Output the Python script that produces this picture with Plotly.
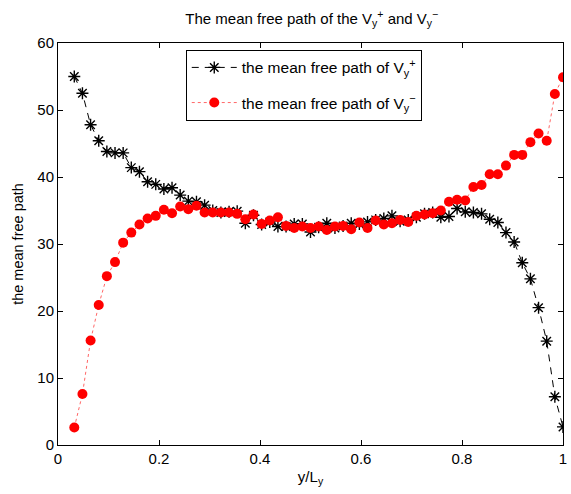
import plotly.graph_objects as go

# x positions: i/62 for i = 2..62
x_index = list(range(2, 63))
x_vals = [i / 62 for i in x_index]

v_plus = [55.0, 52.5, 47.8, 45.4, 43.8, 43.6, 43.6, 41.4, 40.8, 39.3,
          38.9, 38.2, 38.4, 37.3, 36.4, 36.3, 35.8, 35.0, 34.7, 34.8,
          34.9, 33.1, 34.3, 32.9, 33.3, 32.6, 32.6, 33.0, 33.0, 31.8,
          32.5, 33.1, 32.4, 32.7, 33.1, 33.0, 33.3, 33.6, 33.8, 34.2,
          33.4, 33.6, 34.0, 34.5, 34.7, 34.0, 34.1, 35.3, 34.8, 34.7,
          34.5, 33.7, 33.2, 31.7, 30.3, 27.2, 24.8, 20.5, 15.5, 7.2,
          2.7]

v_minus = [2.6, 7.6, 15.6, 20.9, 25.2, 27.3, 30.2, 31.7, 32.9, 33.8,
           34.2, 35.1, 34.6, 35.6, 35.2, 35.7, 34.7, 34.7, 34.7, 34.7,
           34.5, 33.7, 34.4, 33.0, 33.5, 34.0, 32.7, 32.4, 32.6, 32.4,
           32.6, 32.1, 32.6, 32.7, 32.2, 33.2, 32.4, 33.5, 32.9, 33.1,
           33.6, 33.3, 34.2, 34.4, 34.6, 35.0, 36.3, 36.6, 36.5, 38.5,
           38.8, 40.4, 40.4, 41.7, 43.3, 43.3, 45.2, 46.5, 45.4, 52.4,
           54.9]

x_ticks = [0, 0.2, 0.4, 0.6, 0.8, 1]
x_tick_text = ["0", "0.2", "0.4", "0.6", "0.8", "1"]
y_ticks = [0, 10, 20, 30, 40, 50, 60]

FONT = "Liberation Sans, Arial, sans-serif"

fig = go.Figure()
fig.add_trace(go.Scatter(
    x=x_vals, y=v_plus, mode="lines+markers",
    name="the mean free path of V<sub>y</sub><sup>+</sup>",
    legendgroup="plus",
    line=dict(color="black", width=1, dash="7px,6px"),
    marker=dict(symbol="asterisk-open", size=10, color="black",
                line=dict(color="black", width=1.4)),
))
fig.add_trace(go.Scatter(
    x=x_vals, y=v_minus, mode="lines+markers",
    name="the mean free path of V<sub>y</sub><sup>−</sup>",
    legendgroup="minus",
    line=dict(color="rgba(255,0,0,0.6)", width=1, dash="dot"),
    marker=dict(symbol="circle", size=10, color="#ff0000",
                line=dict(width=0)),
))

axis_common = dict(
    showline=True, linecolor="black", linewidth=1, mirror="ticks",
    ticks="inside", ticklen=5, tickcolor="black", showgrid=False,
    zeroline=False, tickfont=dict(size=15, color="black", family=FONT),
)

fig.update_layout(
    width=571, height=494,
    margin=dict(l=58, r=4, t=43, b=49),
    paper_bgcolor="white", plot_bgcolor="white",
    font=dict(family=FONT, color="black"),
    title=dict(
        text="The mean free path of the V<sub>y</sub><sup>+</sup> and V<sub>y</sub><sup>−</sup>",
        x=0.546, xanchor="center", y=0.962, yanchor="middle",
        font=dict(size=15, color="black", family=FONT),
    ),
    xaxis=dict(range=[0, 1], tickvals=x_ticks, ticktext=x_tick_text,
               ticklabeloverflow="allow",
               title=dict(text="y/L<sub>y</sub>", font=dict(size=15), standoff=5),
               **axis_common),
    yaxis=dict(range=[0, 60], tickvals=y_ticks,
               title=dict(text="the mean free path", font=dict(size=14.5), standoff=10),
               **axis_common),
    legend=dict(
        x=0.253, y=0.983, xanchor="left", yanchor="top",
        bgcolor="white", bordercolor="black", borderwidth=1,
        font=dict(size=15.5, color="black", family=FONT),
        itemwidth=45, tracegroupgap=12,
    ),
    showlegend=True,
)

fig.write_html("out.html",
               config={"displayModeBar": False},
               post_script="document.body.style.margin='0';document.body.style.padding='0';")
